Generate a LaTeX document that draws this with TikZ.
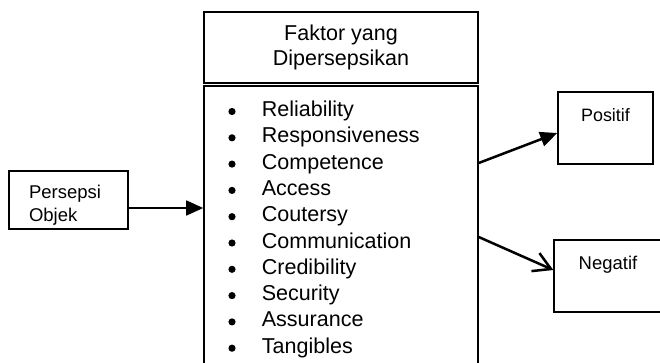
\documentclass[tikz,border=0pt]{standalone}
\usepackage{fontspec}
\setmainfont{Liberation Sans}
\usetikzlibrary{arrows.meta}

\begin{document}
\begin{tikzpicture}[x=0.5576pt,y=-0.5576pt,
  kotak/.style={draw,line width=0.8pt,inner sep=0pt},
  butir/.style={anchor=base west,inner sep=0pt,font=\fontsize{12}{14}\selectfont},
  panah/.style={line width=1.4pt,-{Triangle[length=9.5pt,width=8.2pt]}},
  panahbuka/.style={line width=1.4pt,-{Straight Barb[length=9.5pt,width=11pt]}}]
\useasboundingbox (0,0) rectangle (660,362);
\clip (0,0) rectangle (660,362);
\node[kotak,minimum width=152.8pt,minimum height=39.6pt,align=center,font=\fontsize{12}{13.6}\selectfont] (faktor) at (341,47.5) {Faktor yang\\Dipersepsikan};
\node[kotak,minimum width=152.8pt,minimum height=175.1pt] (daftar) at (341,243) {};
\node[kotak,minimum width=66.4pt,minimum height=32.3pt,text width=44pt,align=left,font=\fontsize{10.3}{12.8}\selectfont] (persepsi) at (68.5,200) {\rule{0pt}{13pt}Persepsi\\Objek};
\node[kotak,minimum width=53pt,minimum height=40.1pt,font=\fontsize{10}{12}\selectfont,text height=7.5pt,text depth=14.2pt] (positif) at (605.5,128) {Positif};
\node[kotak,minimum width=60.2pt,minimum height=40.1pt,font=\fontsize{10.3}{12}\selectfont,text height=7.5pt,text depth=15.3pt] (negatif) at (608,276) {Negatif};
\node[butir] (reliability) at (261.5,116.5) {Reliability};
\node[butir] (responsiveness) at (261.5,142.8) {Responsiveness};
\node[butir] (competence) at (261.5,169.1) {Competence};
\node[butir] (access) at (261.5,195.4) {Access};
\node[butir] (coutersy) at (261.5,221.7) {Coutersy};
\node[butir] (communication) at (261.5,248) {Communication};
\node[butir] (credibility) at (261.5,274.3) {Credibility};
\node[butir] (security) at (261.5,300.6) {Security};
\node[butir] (assurance) at (261.5,326.9) {Assurance};
\node[butir] (tangibles) at (261.5,353.2) {Tangibles};
\fill (232,111.5) circle (2pt);
\fill (232,137.8) circle (2pt);
\fill (232,164.1) circle (2pt);
\fill (232,190.4) circle (2pt);
\fill (232,216.7) circle (2pt);
\fill (232,243) circle (2pt);
\fill (232,269.3) circle (2pt);
\fill (232,295.6) circle (2pt);
\fill (232,321.9) circle (2pt);
\fill (232,348.2) circle (2pt);
\path[draw,panah] (persepsi.east |- 0,208) -- (daftar.west |- 0,208);
\path[draw,panah] (daftar.east |- 0,163) -- (positif.west |- 0,133);
\path[draw,panahbuka] (daftar.east |- 0,237) -- (negatif.west |- 0,270);
\end{tikzpicture}
\end{document}
